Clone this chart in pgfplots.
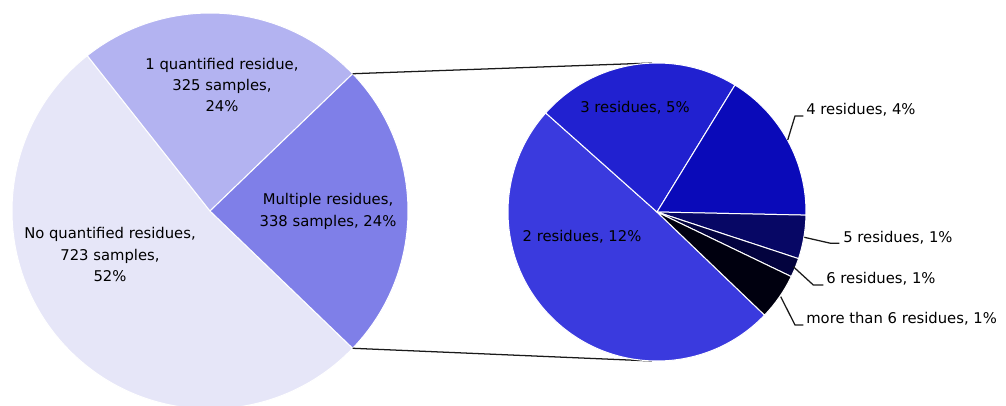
\documentclass[border=0pt]{standalone}
\usepackage{pgfplots}
\usepackage{pgfplotstable}
\usepackage{fontspec}
\setmainfont{DejaVu Sans}
\pgfplotsset{compat=1.18}

% slice colours
\definecolor{cNone}{HTML}{E6E6F8}
\definecolor{cOne}{HTML}{B3B3F1}
\definecolor{cMulti}{HTML}{7F7FE8}
\definecolor{cTwo}{HTML}{3A3ADE}
\definecolor{cThree}{HTML}{2121D0}
\definecolor{cFour}{HTML}{0A0AB9}
\definecolor{cFive}{HTML}{070765}
\definecolor{cSix}{HTML}{03033E}
\definecolor{cMore}{HTML}{00000F}
\definecolor{leader}{HTML}{1A1A1A}

\tikzset{
  lbl/.style={font=\fontsize{11.1}{16}\selectfont, text=black, inner sep=0pt},
  lead/.style={leader, line width=0.95pt},
}

% samples by number of quantified residues
\pgfplotstableread{
count colour
723 cNone
325 cOne
338 cMulti
}\overview

% breakdown of the samples with multiple residues
\pgfplotstableread{
count colour
167 cTwo
75 cThree
56 cFour
16 cFive
7 cSix
17 cMore
}\breakdown

% draw a pie clockwise: #1 table, #2,#3 centre, #4 radius, #5 start angle
\newcommand\drawpie[5]{%
  \pgfplotstablegetrowsof{#1}%
  \pgfmathtruncatemacro\pielast{\pgfplotsretval-1}%
  \def\pietotal{0}%
  \pgfplotsforeachungrouped \r in {0,...,\pielast}{%
    \pgfplotstablegetelem{\r}{count}\of{#1}%
    \pgfmathsetmacro\pietotal{\pietotal+\pgfplotsretval}%
  }%
  \def\pieangle{#5}%
  \pgfplotsforeachungrouped \r in {0,...,\pielast}{%
    \pgfplotstablegetelem{\r}{count}\of{#1}%
    \pgfmathsetmacro\pienext{\pieangle-(\pgfplotsretval/\pietotal)*360}%
    \pgfplotstablegetelem{\r}{colour}\of{#1}%
    \edef\piecmd{\noexpand\filldraw[fill=\pgfplotsretval, draw=white,
      line width=0.75pt, line join=round]
      (axis cs:#2,#3) -- ++(\pieangle:#4)
      arc[start angle=\pieangle, end angle=\pienext, radius=#4] -- cycle;}%
    \piecmd
    \global\let\pieangle\pienext
  }%
}

\begin{document}
\begin{tikzpicture}
\clip (0,0) rectangle (754.5pt,303.75pt);
\begin{axis}[
  at={(0,0)}, anchor=south west,
  x=0.75pt, y=0.75pt,
  xmin=0, xmax=1006, ymin=0, ymax=405,
  hide axis, clip=false,
]
% left pie: all samples
\drawpie{\overview}{210}{194}{148.5pt}{316.1}
% connectors from the edges of the "multiple residues" slice to the second pie
\pgfmathsetmacro\lowang{\pieangle}
\pgfmathsetmacro\upang{-\pieangle}
\edef\conncmd{\noexpand\draw[lead]
  (axis cs:210,194) ++(\upang:148.5pt) -- (axis cs:652,342)
  (axis cs:210,194) ++(\lowang:148.5pt) -- (axis cs:652,44);}
\conncmd
% right pie: breakdown of multiple residues
\drawpie{\breakdown}{657}{193}{111.75pt}{316.2}

% labels of the first pie
\node[lbl, align=center] at (axis cs:222,320) {1 quantified residue,\\325 samples,\\24\%};
\node[lbl, align=center] at (axis cs:328,193.5) {Multiple residues,\\338 samples, 24\%};
\node[lbl, align=center] at (axis cs:110,150.5) {No quantified residues,\\723 samples,\\52\%};

% labels of the second pie
\node[lbl] at (axis cs:635,297) {3 residues, 5\%};
\node[lbl] at (axis cs:582,168) {2 residues, 12\%};
\node[lbl, anchor=west] at (axis cs:806,295) {4 residues, 4\%};
\node[lbl, anchor=west] at (axis cs:843,167) {5 residues, 1\%};
\node[lbl, anchor=west] at (axis cs:826,126) {6 residues, 1\%};
\node[lbl, anchor=west] at (axis cs:806,86) {more than 6 residues, 1\%};

% leader lines
\draw[lead] (axis cs:787.7,265) -- (axis cs:795,289) -- (axis cs:803.3,289);
\draw[lead] (axis cs:804.3,167.7) -- (axis cs:830.7,161.7) -- (axis cs:839.3,161.7);
\draw[lead] (axis cs:793.3,138.3) -- (axis cs:813.3,120) -- (axis cs:823.3,120);
\draw[lead] (axis cs:780.7,108.3) -- (axis cs:795,80) -- (axis cs:803.3,80);
\end{axis}
\end{tikzpicture}
\end{document}
